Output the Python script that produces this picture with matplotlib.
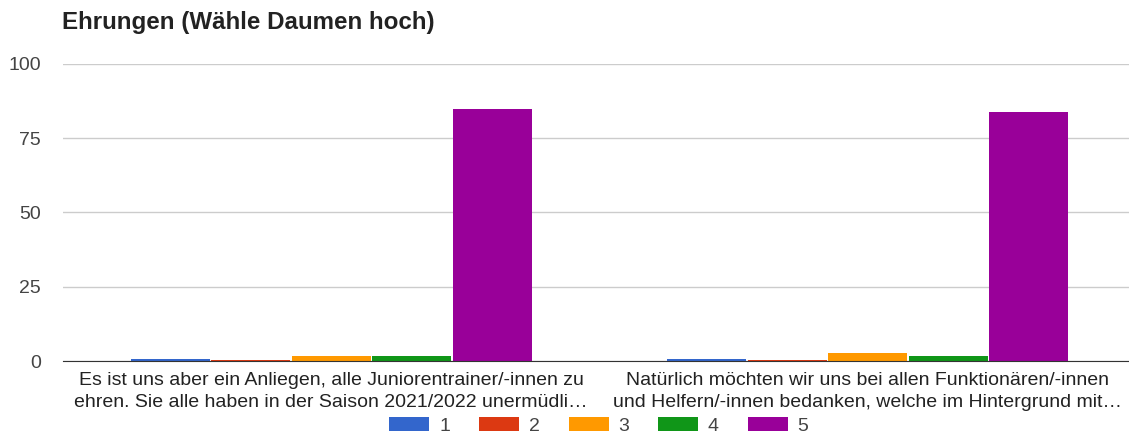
import matplotlib
matplotlib.use("Agg")
import matplotlib.pyplot as plt
import numpy as np

plt.rcParams['font.family'] = ['Liberation Sans', 'DejaVu Sans']

categories = ["Es ist uns aber ein Anliegen, alle Juniorentrainer/-innen zu\nehren. Sie alle haben in der Saison 2021/2022 unermüdli…",
              "Natürlich möchten wir uns bei allen Funktionären/-innen\nund Helfern/-innen bedanken, welche im Hintergrund mit…"]
series_names = ["1", "2", "3", "4", "5"]
values = {
    "1": [0.8, 0.8],
    "2": [0.4, 0.4],
    "3": [1.8, 2.6],
    "4": [1.8, 1.8],
    "5": [85, 84],
}
colors = ["#3366cc", "#dc3912", "#ff9900", "#109618", "#990099"]
yticks = [0, 25, 50, 75, 100]

fig = plt.figure(figsize=(11.29, 4.36), dpi=100)
ax = fig.add_axes([63/1129, 1-361/436, 1073/1129, (361-64)/436])

x = np.arange(len(categories))
gw = 0.75
bw = gw / len(series_names)
for i, (name, c) in enumerate(zip(series_names, colors)):
    ax.bar(x - gw/2 + bw*(i+0.5), values[name], width=bw*0.985, color=c, label=name, zorder=3)

ax.set_xlim(-0.5, 1.5)
ax.set_ylim(0, 100)
ax.set_yticks(yticks)
ax.set_yticklabels([str(t) for t in yticks], fontsize=14, color="#444444")
ax.set_xticks(x)
ax.set_xticklabels(categories, fontsize=14, color="#222222", linespacing=1.4)
ax.tick_params(axis='both', length=0)
ax.tick_params(axis='y', pad=16)
ax.tick_params(axis='x', pad=8)
ax.grid(axis='y', color="#cccccc", linewidth=1, zorder=0)
for s in ['top', 'right', 'left']:
    ax.spines[s].set_visible(False)
ax.spines['bottom'].set_color("#333333")
ax.spines['bottom'].set_zorder(4)

fig.text(62/1129, 1-22/436, "Ehrungen (Wähle Daumen hoch)", fontsize=17.4, fontweight='bold',
         color="#222222", va='center', ha='left')

leg = fig.legend(loc='center', bbox_to_anchor=(599/1129, 1-426/436), ncol=5, frameon=False,
                 fontsize=14, handlelength=2.05, handleheight=0.72, columnspacing=1.5,
                 handletextpad=0.5, borderpad=0)
for t in leg.get_texts():
    t.set_color("#444444")

fig.savefig("out.png", dpi=100)
